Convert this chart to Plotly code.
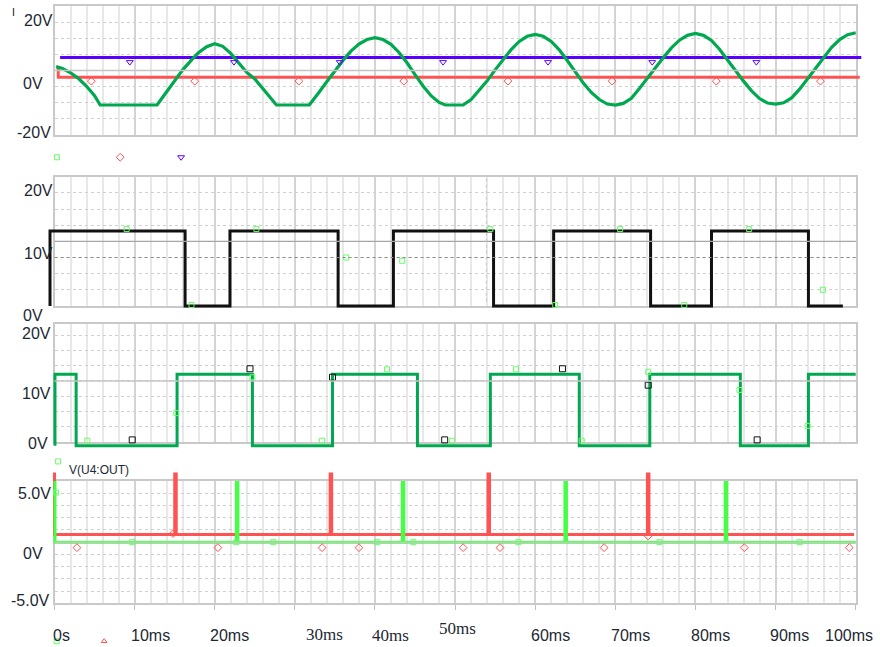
import plotly.graph_objects as go

# ------------------------------------------------------------------ data
# Panel 1 : clipped sine (green), reference levels (red, blue)
sine_t = [0.2, 1, 2, 3, 4, 5, 5.7, 12.8, 13, 14, 15, 16, 17, 18, 19, 20, 21, 22, 23, 24, 25, 26, 27, 27.7,
          31.8, 32, 33, 34, 35, 36, 37, 38, 39, 40, 41, 42, 43, 44, 45, 46, 47, 48, 48.8, 51.0, 52, 53, 54,
          55, 56, 57, 58, 59, 60, 61, 62, 63, 64, 65, 66, 67, 68, 69, 70, 71, 72, 73, 74, 75, 76, 77, 78,
          79, 80, 81, 82, 83, 84, 85, 86, 87, 88, 89, 90, 91, 92, 93, 94, 95, 96, 97, 98, 99, 100]
sine_v = [1.2, 0.6, -0.7, -2.5, -4.9, -7.8, -10.7, -10.7, -10.0, -6.5, -3.0, 0.2, 3.0, 5.6, 7.4, 8.3, 7.5,
          5.3, 2.3, -0.6, -2.6, -5.6, -8.6, -10.7, -10.7, -10.1, -6.8, -3.4, -0.1, 3.1, 6.0, 8.2, 9.6,
          10.2, 9.6, 8.1, 5.6, 2.4, -1.3, -4.8, -7.8, -9.9, -10.7, -10.7, -9.0, -6.2, -3.2, 0.2, 3.5, 6.5,
          9.0, 10.6, 11.2, 10.6, 9.0, 6.4, 3.1, -0.5, -3.9, -6.8, -9.0, -10.4, -10.7, -10.2, -8.6, -5.6,
          -2.3, 0.9, 4.0, 7.0, 9.4, 10.9, 11.5, 10.9, 9.3, 6.6, 3.2, -0.2, -3.3, -6.3, -8.7, -10.1, -10.4,
          -10.0, -8.5, -5.8, -2.6, 0.8, 4.2, 7.2, 9.6, 11.1, 11.7]
red1_t = [0.47, 0.47, 100.5]
red1_v = [1.2, -2.1, -2.1]
blue1_t = [0.7, 100.7]
blue1_v = [4.0, 4.0]
blue1_mk_t = [9.4, 22.4, 35.6, 48.5, 61.6, 74.6, 87.6]
blue1_mk_v = [2.6] * 7
red1_mk_t = [4.6, 17.5, 30.5, 43.6, 56.6, 69.6, 82.6, 95.6]
red1_mk_v = [-3.3] * 8
legend1_t = [0.3, 8.2, 15.8]          # green, red, blue symbols under panel 1
legend1_v = [-26.9, -26.9, -26.9]

# Panel 2 : black square wave
sq2_start, sq2_end = -0.56, 98.4
sq2_edges = [-0.56, 16.3, 21.9, 35.4, 42.3, 54.8, 62.3, 74.4, 82.0, 94.1]
sq2_lo, sq2_hi = 0.0, 11.6
p2_mk_t = [9.0, 17.1, 25.2, 36.4, 43.4, 54.4, 62.5, 70.6, 78.6, 86.7, 95.9]
p2_mk_v = [11.9, 0.15, 11.9, 7.5, 7.0, 11.9, 0.15, 11.9, 0.15, 11.9, 2.5]
p2_ref_solid = 10.0
p2_ref_dotted = 7.5
p2_cursor_t = 53.9

# Panel 3 : green square wave
sq3_start, sq3_end = 0.06, 100.0
sq3_edges = [0.06, 2.7, 15.3, 24.7, 34.7, 45.3, 54.4, 65.5, 74.3, 85.6, 94.1]
sq3_lo, sq3_hi = -0.66, 11.1
p3_black_t = [9.7, 24.4, 34.7, 48.7, 63.4, 74.1, 87.7]
p3_black_v = [0.3, 12.0, 10.6, 0.3, 12.0, 9.3, 0.3]
p3_green_t = [4.1, 15.2, 24.7, 33.4, 41.5, 49.6, 57.6, 65.8, 74.1, 85.5, 94.0]
p3_green_v = [0.16, 4.7, 10.6, 0.16, 11.9, 0.16, 11.9, 0.16, 11.5, 8.5, 2.6]
p3_major = 10.0

# Panel 4 : pulses
g4_start, g4_end, g4_base, g4_peak = 0.06, 100.0, 0.0, 5.0
g4_spikes = [22.8, 43.5, 63.8, 83.8]
r4_start, r4_end, r4_base, r4_peak = 0.0, 99.8, 0.63, 5.7
r4_spikes = [15.1, 34.5, 54.2, 74.1]
p4_red_mk_t = [2.8, 14.8, 20.4, 33.4, 38.0, 51.0, 55.6, 68.6, 74.1, 86.1, 99.2]
p4_red_mk_v = [-0.45, 0.7, -0.45, -0.45, -0.45, -0.45, -0.45, -0.45, 0.5, -0.45, -0.45]
p4_green_mk_t = [0.2, 0.45, 9.7, 22.7, 27.3, 40.3, 44.8, 57.9, 75.5, 93.0, 0.27]
p4_green_mk_v = [4.05, 6.6, 0, 0, 0, 0, 0, 0, 0, 0, -8.1]
p4_legend_red_t = [6.2]
p4_legend_red_v = [-8.1]
trace_label = "V(U4:OUT)"

# axis tick labels
x_tick_vals = [0, 10, 20, 30, 40, 50, 60, 70, 80, 90, 100]
x_tick_text = ["0s", "10ms", "20ms", "30ms", "40ms", "50ms", "60ms", "70ms", "80ms", "90ms", "100ms"]
p1_tick_text = ["20V", "0V", "-20V"]
p2_tick_text = ["20V", "10V", "0V"]
p3_tick_text = ["20V", "10V", "0V"]
p4_tick_text = ["5.0V", "0V", "-5.0V"]

# ------------------------------------------------------------------ styling / positions
W, H = 880, 647
X0, X1 = 54.5, 855.7
panels_px = [(6, 135), (176.7, 306), (324, 441.7), (481, 603.3)]
ranges = [[-20, 20], [0, 20], [0, 19.36], [-5, 5]]
dticks = [5, 2.5, 2.5, 1]
PADX = 14
PADS = [(10, 32), (16, 16), (16, 16), (30, 44)]   # drawing room (top, bottom) px per panel

x_tick_shift = [7, 16, 15, 30, 16, 2, 15, 15, 15, 14, -7]
x_tick_py = [635, 635, 635, 634, 635, 628, 635, 635, 635, 635, 635]
x_tick_font = ["Liberation Sans"] * 3 + ["Liberation Serif"] * 3 + ["Liberation Sans"] * 5
x_tick_size = [16, 16, 16, 17, 17, 17, 16, 16, 16, 16, 16]

ylab_pos = [
    [(55, 20), (45, 83), (53, 133)],
    [(55, 190), (55, 253), (45, 315)],
    [(53, 333), (53, 393), (50, 443)],
    [(53, 493), (45, 553), (52, 600)],
]
ylab_texts = [p1_tick_text, p2_tick_text, p3_tick_text, p4_tick_text]

GREEN = "#00a84f"
LIME = "#44ff44"
LIGHTG = "#66ff66"
RED = "#ff5252"
BLUE = "#5a00ff"
BLACK = "#111111"
TXT = "#1c2833"


def py2paper(py):
    return min(1.0, max(0.0, 1 - py / H))


def px2paper(px):
    return min(1.0, max(0.0, px / W))


def step_wave(t0, t1, edges, lo, hi):
    xs, ys, level = [t0], [lo], lo
    for e in edges:
        other = hi if level == lo else lo
        xs += [e, e]
        ys += [level, other]
        level = other
    xs.append(t1)
    ys.append(level)
    return xs, ys


def pulse_base(t0, t1, base, peak):
    return [t0, t0, t1], [peak, base, base]


def spikes(ts, base, peak):
    xs, ys = [], []
    for s in ts:
        xs += [s, s, None]
        ys += [base, peak, None]
    return xs, ys


fig = go.Figure()
DRAW = ["5", "6", "7", "8"]   # hidden drawing axes for panels 1..4


def line(x, y, color, width, p):
    fig.add_trace(go.Scatter(x=x, y=y, mode="lines",
                             line=dict(color=color, width=width),
                             xaxis="x" + DRAW[p], yaxis="y" + DRAW[p], cliponaxis=False, hoverinfo="skip"))


def marks(x, y, symbol, color, size, p, lw=1):
    fig.add_trace(go.Scatter(x=x, y=y, mode="markers",
                             marker=dict(symbol=symbol, size=size, color=color, line=dict(color=color, width=lw)),
                             xaxis="x" + DRAW[p], yaxis="y" + DRAW[p], cliponaxis=False, hoverinfo="skip"))


# panel 1
line(blue1_t, blue1_v, BLUE, 3, 0)
line(red1_t, red1_v, RED, 3, 0)
line(sine_t, sine_v, GREEN, 3.2, 0)
marks(blue1_mk_t, blue1_mk_v, "triangle-down-open", BLUE, 6, 0)
marks(red1_mk_t, red1_mk_v, "diamond-open", RED, 6, 0)
marks(legend1_t[:1], legend1_v[:1], "square-open", LIGHTG, 5, 0)
marks(legend1_t[1:2], legend1_v[1:2], "diamond-open", RED, 6, 0)
marks(legend1_t[2:], legend1_v[2:], "triangle-down-open", BLUE, 6, 0)

# panel 2
x2, y2 = step_wave(sq2_start, sq2_end, sq2_edges, sq2_lo, sq2_hi)
line(x2, y2, BLACK, 3, 1)
marks(p2_mk_t, p2_mk_v, "square-open", LIGHTG, 5, 1)

# panel 3
x3, y3 = step_wave(sq3_start, sq3_end, sq3_edges, sq3_lo, sq3_hi)
line(x3, y3, GREEN, 3, 2)
marks(p3_black_t, p3_black_v, "square-open", BLACK, 6, 2)
marks(p3_green_t, p3_green_v, "square-open", LIGHTG, 5, 2)

# panel 4
bx, by = pulse_base(r4_start, r4_end, r4_base, r4_peak)
line(bx, by, RED, 3, 3)
sx, sy = spikes(r4_spikes, r4_base, r4_peak)
line(sx, sy, RED, 4.5, 3)
bx, by = pulse_base(g4_start, g4_end, g4_base, g4_peak)
line(bx, by, LIME, 3, 3)
sx, sy = spikes(g4_spikes, g4_base, g4_peak)
line(sx, sy, LIME, 4.5, 3)
marks(p4_red_mk_t, p4_red_mk_v, "diamond-open", RED, 6, 3)
marks(p4_green_mk_t, p4_green_mk_v, "square-open", LIGHTG, 5, 3)
marks(p4_legend_red_t, p4_legend_red_v, "triangle-up-open", RED, 5, 3)

layout = dict(width=W, height=H, margin=dict(l=0, r=0, t=0, b=0), showlegend=False,
              paper_bgcolor="white", plot_bgcolor="rgba(0,0,0,0)")
sx_px = (X1 - X0) / 100.0
for i, ((top, bot), rng, dt, (pt, pb)) in enumerate(zip(panels_px, ranges, dticks, PADS)):
    sfx = "" if i == 0 else str(i + 1)
    xa = dict(domain=[px2paper(X0), px2paper(X1)], range=[0, 100], anchor="y" + sfx,
              showticklabels=False, dtick=10, tick0=0, showgrid=True, gridcolor="#d4d4d4", gridwidth=2,
              griddash="solid",
              minor=dict(dtick=2, tick0=0, showgrid=True, gridcolor="#e8e8e8", gridwidth=2, griddash="solid"),
              zeroline=False, showline=True, mirror=True, linecolor="#c9c9c9", linewidth=2)
    if i == 3:
        xa.update(ticks="outside", ticklen=5, tickcolor="#c0c0c0", tickwidth=1, tickvals=x_tick_vals)
    else:
        xa.update(ticks="")
    ya = dict(domain=[py2paper(bot), py2paper(top)], range=rng, anchor="x" + sfx,
              showticklabels=False, dtick=dt, tick0=0, showgrid=True, gridcolor="#d0d0d0", gridwidth=1,
              griddash="dot", zeroline=False, showline=True, mirror=True, linecolor="#c9c9c9", linewidth=2)
    layout["xaxis" + sfx] = xa
    layout["yaxis" + sfx] = ya
    # hidden drawing axes: same scale, extended domain (clamped to the page)
    d = DRAW[i]
    sy_px = (bot - top) / (rng[1] - rng[0])
    top_d = max(top - pt, 0.0)
    bot_d = min(bot + pb, H)
    x0_d = max(X0 - PADX, 0.0)
    x1_d = min(X1 + PADX, W)
    layout["xaxis" + d] = dict(domain=[x0_d / W, x1_d / W],
                               range=[-(X0 - x0_d) / sx_px, 100 + (x1_d - X1) / sx_px],
                               anchor="y" + d, visible=False)
    layout["yaxis" + d] = dict(domain=[1 - bot_d / H, 1 - top_d / H],
                               range=[rng[0] - (bot_d - bot) / sy_px, rng[1] + (top - top_d) / sy_px],
                               anchor="x" + d, visible=False)
fig.update_layout(**layout)

shapes = [
    dict(type="line", xref="x domain", yref="y", x0=0, x1=1, y0=0, y1=0, line=dict(color="#c4c4c4", width=1.5)),
    dict(type="line", xref="x2 domain", yref="y2", x0=0, x1=1, y0=p2_ref_solid, y1=p2_ref_solid,
         line=dict(color="#a6a6a6", width=1.2)),
    dict(type="line", xref="x2 domain", yref="y2", x0=0, x1=1, y0=p2_ref_dotted, y1=p2_ref_dotted,
         line=dict(color="#8c8c8c", width=1, dash="dot")),
    dict(type="line", xref="x2", yref="y2", x0=p2_cursor_t, x1=p2_cursor_t, y0=0.66, y1=20.2,
         line=dict(color="#c8c8c8", width=1, dash="dot")),
    dict(type="line", xref="x3 domain", yref="y3", x0=0, x1=1, y0=p3_major, y1=p3_major,
         line=dict(color="#c4c4c4", width=1.5)),
    dict(type="line", xref="x4 domain", yref="y4", x0=0, x1=1, y0=0, y1=0, line=dict(color="#c4c4c4", width=1.5)),
]
fig.update_layout(shapes=shapes)

ann = []
for texts, poss in zip(ylab_texts, ylab_pos):
    for t, (pxr, pyc) in zip(texts, poss):
        ann.append(dict(text=t, xref="paper", yref="paper", x=px2paper(pxr), y=py2paper(pyc),
                        xanchor="right", yanchor="middle", showarrow=False,
                        font=dict(family="Liberation Sans", size=16, color=TXT)))
for v, t, sh, pyc, fam, sz in zip(x_tick_vals, x_tick_text, x_tick_shift, x_tick_py, x_tick_font, x_tick_size):
    ann.append(dict(text=t, xref="x4", yref="paper", x=v, xshift=sh, y=py2paper(pyc),
                    xanchor="center", yanchor="middle", showarrow=False,
                    font=dict(family=fam, size=sz, color=TXT)))
ann.append(dict(text=trace_label, xref="paper", yref="paper", x=px2paper(67), y=py2paper(470),
                xanchor="left", yanchor="middle", showarrow=False,
                font=dict(family="Liberation Sans", size=12, color=TXT)))
ann.append(dict(text="I", xref="paper", yref="paper", x=px2paper(14), y=py2paper(12),
                xanchor="center", yanchor="middle", showarrow=False,
                font=dict(family="DejaVu Sans", size=10, color=BLACK)))
fig.update_layout(annotations=ann)

fig.write_html("out.html", config={"displayModeBar": False},
               post_script="document.body.style.margin='0px';document.body.style.overflow='hidden';")
